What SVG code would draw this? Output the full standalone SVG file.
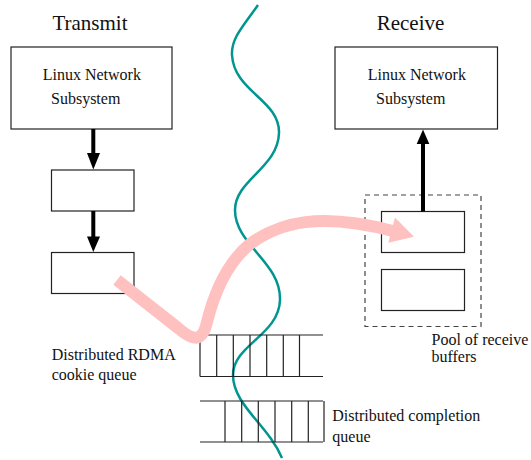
<svg xmlns="http://www.w3.org/2000/svg" width="531" height="460" viewBox="0 0 531 460">
<defs>
<style>
.box{fill:#fff;stroke:#222;stroke-width:1.2}
.t{font-family:"Liberation Serif","Times New Roman",serif;font-size:16px;fill:#111}
.h{font-family:"Liberation Serif","Times New Roman",serif;font-size:21px;fill:#111}
.q{stroke:#222;stroke-width:1.2;fill:none}
.arr{stroke:#000;stroke-width:4;fill:none}
</style>
</defs>
<rect width="531" height="460" fill="#fff"/>
<text class="h" x="90" y="30" text-anchor="middle">Transmit</text>
<text class="h" x="410.5" y="30" text-anchor="middle">Receive</text>

<g id="wave">
<path d="M258,5 C244,25 231,38 232,55 C234,92 280,100 279,133 C278,168 235,180 235,210 C235,245 281,262 280,300 C279,335 233,345 233,375 C233,405 268,425 282,458" fill="none" stroke="#009590" stroke-width="2.5"/>
</g>

<g id="tx-lns">
<rect class="box" x="11" y="47" width="161" height="82"/>
<text class="t" x="42.7" y="80">Linux Network</text>
<text class="t" x="51" y="104">Subsystem</text>
</g>
<g id="tx-box1"><rect class="box" x="51.5" y="170" width="82.5" height="41"/></g>
<g id="tx-box2"><rect class="box" x="51.5" y="252.5" width="82.5" height="41"/></g>

<g id="rx-lns">
<rect class="box" x="335" y="47" width="162.5" height="82"/>
<text class="t" x="367.7" y="80">Linux Network</text>
<text class="t" x="376" y="104">Subsystem</text>
</g>
<g id="rx-pool">
<rect x="365" y="195" width="116" height="131.5" fill="none" stroke="#444" stroke-width="1.2" stroke-dasharray="5,4"/>
<rect class="box" x="381.5" y="211.5" width="83" height="41"/>
<rect class="box" x="381.5" y="269.5" width="83" height="41"/>
<text class="t" x="431.5" y="345">Pool of receive</text>
<text class="t" x="431.5" y="361.5">buffers</text>
</g>

<g id="cookie-queue">
<path class="q" d="M200,335 H323 M200,376.5 H323 M200,335 V376.5 M216.7,335 V376.5 M233.3,335 V376.5 M250,335 V376.5 M266.7,335 V376.5 M283.3,335 V376.5 M299.5,335 V376.5"/>
<text class="t" x="51.7" y="360">Distributed RDMA</text>
<text class="t" x="51.7" y="380">cookie queue</text>
</g>
<g id="completion-queue">
<path class="q" d="M200,401 H323 M200,442 H323 M225,401 V442 M241.7,401 V442 M258.3,401 V442 M275,401 V442 M291.7,401 V442 M308.3,401 V442 M324,401 V442"/>
<text class="t" x="332.3" y="421">Distributed completion</text>
<text class="t" x="332.3" y="441.5">queue</text>
</g>

<g id="connectors">
<line class="arr" x1="93.3" y1="129" x2="93.3" y2="155"/>
<polygon points="87,153 100,153 93.3,169.5"/>
<line class="arr" x1="93.3" y1="211" x2="93.3" y2="238"/>
<polygon points="87,236.5 100,236.5 93.3,252"/>
<line class="arr" x1="423" y1="211.5" x2="423" y2="142"/>
<polygon points="416.7,144 429.3,144 423,129.5"/>
<path d="M117,280 L178,328 C192,340 202,344 207,322 C215,290 228,262 250,244 C280,222 320,212 393,231" fill="none" stroke="#FFC0C0" stroke-width="12"/>
<polygon points="395,217.5 414,236.7 388.3,242.7" fill="#FFC0C0"/>
</g>
</svg>
